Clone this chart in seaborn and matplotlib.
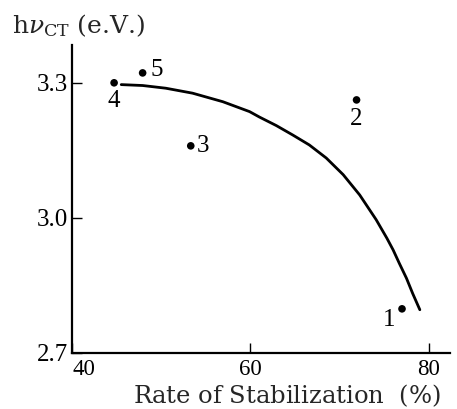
import matplotlib
matplotlib.use("Agg")
import matplotlib.pyplot as plt
import seaborn as sns
import pandas as pd

# Sample points: rate of stabilization (%) vs. charge-transfer band energy (eV)
sample_ids = ["1", "2", "3", "4", "5"]
stabilization = [77.0, 71.9, 53.3, 44.7, 47.9]
h_nu_ct = [2.798, 3.262, 3.160, 3.300, 3.322]

# Trend curve nodes
curve_x = [45.5, 47.9, 50.5, 53.5, 56.9, 59.9, 61.0, 62.9, 64.75, 66.6,
           68.5, 70.4, 72.25, 74.1, 75.3, 76.0, 76.7, 77.5, 78.2, 79.0]
curve_y = [3.296, 3.294, 3.288, 3.277, 3.258, 3.236, 3.224, 3.205, 3.184,
           3.162, 3.133, 3.096, 3.051, 2.996, 2.955, 2.929, 2.899, 2.866,
           2.832, 2.796]

x_ticks = [40, 60, 80]
y_ticks = [2.7, 3.0, 3.3]

sns.set_theme(style="ticks")
plt.rcParams["font.family"] = ["Liberation Serif", "DejaVu Serif"]
plt.rcParams["mathtext.fontset"] = "dejavuserif"

points = pd.DataFrame({"x": stabilization, "y": h_nu_ct, "id": sample_ids})
curve = pd.DataFrame({"x": curve_x, "y": curve_y})

fig = plt.figure(figsize=(4.57, 4.09), dpi=100)
ax = fig.add_axes([0.158, 0.137, 0.827, 0.753])

sns.lineplot(data=curve, x="x", y="y", ax=ax, color="black", linewidth=2.0,
             sort=False)
sns.scatterplot(data=points, x="x", y="y", ax=ax, color="black", s=30,
                edgecolor="none", zorder=3)

# Point labels, placed around each marker
offsets = {"1": (-9, -8), "2": (0, -14), "3": (9, 0), "4": (0, -13), "5": (10, 2)}
for _, r in points.iterrows():
    dx, dy = offsets[r["id"]]
    ax.annotate(r["id"], (r["x"], r["y"]), xytext=(dx, dy),
                textcoords="offset points", ha="center", va="center",
                fontsize=18, color="black")

ax.set_xlim(40, 82.4)
ax.set_ylim(2.7, 3.384)
ax.set_xticks(x_ticks)
ax.set_xticklabels([str(v) for v in x_ticks])
ax.set_yticks(y_ticks)
ax.set_yticklabels([f"{v:.1f}" for v in y_ticks])
ax.get_xticklabels()[0].set_horizontalalignment("left")

ax.tick_params(axis="both", direction="in", length=7, width=1.0,
               colors="black")
ax.tick_params(axis="x", pad=4, labelsize=16.5)
ax.tick_params(axis="y", pad=3, labelsize=18)

for side in ("top", "right"):
    ax.spines[side].set_visible(False)
for side in ("left", "bottom"):
    ax.spines[side].set_linewidth(1.6)
    ax.spines[side].set_color("black")

ax.set_xlabel("")
ax.set_ylabel("")
fig.text(287 / 457, 1 - 403 / 409, r"Rate of Stabilization  ($\mathit{\%}$)",
         fontsize=17.5, family="DejaVu Serif", ha="center", va="baseline")
fig.text(12 / 457, 1 - 33 / 409, r"h$\nu_{\mathrm{CT}}$ (e.V.)", fontsize=18,
         family="DejaVu Serif", ha="left", va="baseline")

fig.savefig("out.png", dpi=100, facecolor="white")
